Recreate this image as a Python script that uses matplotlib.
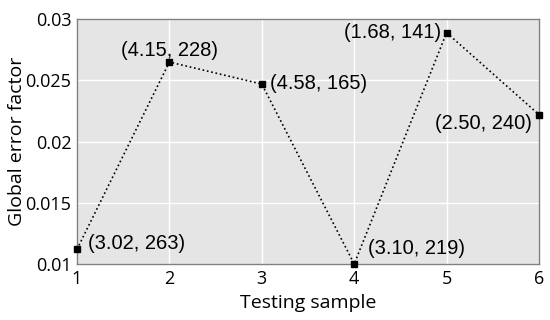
import matplotlib
matplotlib.use('Agg')
import matplotlib.pyplot as plt

samples = [1, 2, 3, 4, 5, 6]
error_factor = [0.0112, 0.0265, 0.0247, 0.0100, 0.0289, 0.0222]
labels = ['(3.02, 263)', '(4.15, 228)', '(4.58, 165)', '(3.10, 219)', '(1.68, 141)', '(2.50, 240)']

# label offsets in pixels and alignment per label
offsets = [(11, 6), (0, 12), (8, 1), (14, 15), (-5, 0), (-7, -9)]
aligns = [('left', 'center'), ('center', 'center'), ('left', 'center'),
          ('left', 'center'), ('right', 'center'), ('right', 'center')]

fig = plt.figure(figsize=(5.5, 3.2), dpi=100)
ax = fig.add_axes([0.14, 0.175, 0.84, 0.765])
ax.set_facecolor('#e5e5e5')

ax.plot(samples, error_factor, linestyle=':', color='black', linewidth=1.2,
        marker='s', markersize=5, markerfacecolor='black', clip_on=False, zorder=3)

for x, y, lab, off, al in zip(samples, error_factor, labels, offsets, aligns):
    ax.annotate(lab, (x, y), xytext=off, textcoords='offset pixels',
                ha=al[0], va=al[1], fontsize=14.5, family='Liberation Sans')

ax.set_xlim(1, 6)
ax.set_ylim(0.01, 0.03)
ax.set_xticks(samples)
ax.set_yticks([0.01, 0.015, 0.02, 0.025, 0.03])
ax.set_yticklabels(['0.01', '0.015', '0.02', '0.025', '0.03'])
ax.grid(True, color='white', linewidth=1)
ax.set_axisbelow(True)
ax.tick_params(length=0, labelsize=13, pad=4)
for lbl in ax.get_xticklabels() + ax.get_yticklabels():
    lbl.set_family('Open Sans')
for s in ax.spines.values():
    s.set_color('#808080')
    s.set_linewidth(1)

ax.set_xlabel('Testing sample', fontsize=14, family='Open Sans', labelpad=5)
ax.set_ylabel('Global error factor', fontsize=14, family='Open Sans', labelpad=0)

fig.savefig('out.png', dpi=100)
